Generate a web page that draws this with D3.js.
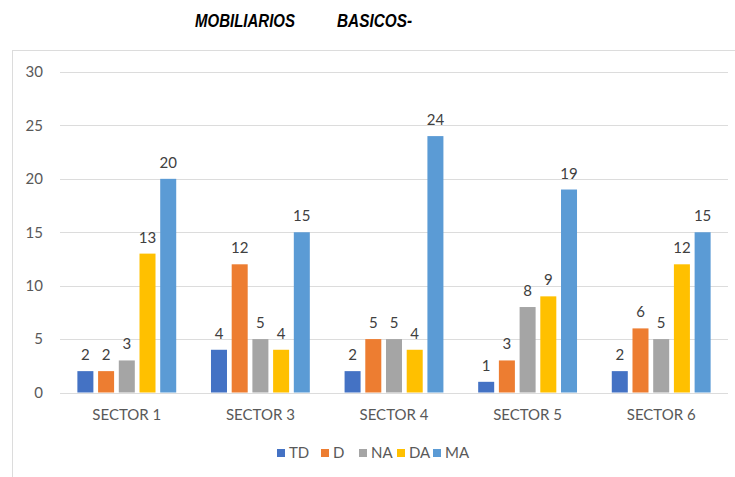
<!DOCTYPE html>
<html>
<head>
<meta charset="utf-8">
<script src="https://cdn.jsdelivr.net/npm/d3@7"></script>
<style>
  body { margin: 0; background: #fff; }
  svg { display: block; }
</style>
</head>
<body>
<div id="chart"></div>
<script>
// data
var sectors = ["SECTOR 1", "SECTOR 3", "SECTOR 4", "SECTOR 5", "SECTOR 6"];
var seriesNames = ["TD", "D", "NA", "DA", "MA"];
var TD = [2, 4, 2, 1, 2];
var D  = [2, 12, 5, 3, 6];
var NA = [3, 5, 5, 8, 5];
var DA = [13, 4, 4, 9, 12];
var MA = [20, 15, 24, 19, 15];
var yTicks = [0, 5, 10, 15, 20, 25, 30];
var colors = ["#4472C4", "#ED7D31", "#A5A5A5", "#FFC000", "#5B9BD5"];

var seriesValues = [TD, D, NA, DA, MA];
var data = [];
sectors.forEach(function (s, i) {
	seriesNames.forEach(function (n, j) {
		data.push({sector: s, series: n, value: seriesValues[j][i]});
	});
});

var W = 735, H = 477;
var font = "Lato, 'Open Sans', sans-serif";

var svg = d3.select("#chart").append("svg")
	.attr("width", W)
	.attr("height", H);

// chart frame
svg.append("rect")
	.attr("x", 12.5).attr("y", 50.5)
	.attr("width", 800).attr("height", 500)
	.style("fill", "none")
	.style("stroke", "#dcdcdc");

// title
var title = svg.append("text")
	.attr("y", 27)
	.style("font-family", "'Liberation Sans', Arial, sans-serif")
	.style("font-weight", "bold")
	.style("font-style", "italic")
	.style("font-size", "19px")
	.style("fill", "#000");
title.append("tspan").attr("x", 195).attr("textLength", 100).attr("lengthAdjust", "spacingAndGlyphs").text("MOBILIARIOS");
title.append("tspan").attr("x", 337).attr("textLength", 75).attr("lengthAdjust", "spacingAndGlyphs").text("BASICOS-");

var x0 = d3.scaleBand().domain(sectors).range([60, 728]).paddingInner(0.225).paddingOuter(0.1125);
var x1 = d3.scaleBand().domain(seriesNames).range([0, x0.bandwidth()]).paddingInner(0.227).paddingOuter(0.1135);
var y = d3.scaleLinear().domain([0, 30]).range([392.5, 72]);
var color = d3.scaleOrdinal().domain(seriesNames).range(colors);

// gridlines
svg.append("g")
	.selectAll("line")
	.data(yTicks)
	.enter()
	.append("line")
		.attr("x1", 60).attr("x2", 728)
		.attr("y1", function(d) { return Math.round(y(d)) + 0.5; })
		.attr("y2", function(d) { return Math.round(y(d)) + 0.5; })
		.style("stroke", "#dcdcdc")
		.style("stroke-width", 1.2);

// y axis labels
var yAxis = svg.append("g")
	.attr("transform", "translate(60,0)")
	.call(d3.axisLeft(y).tickValues(yTicks).tickSize(0).tickPadding(17));
yAxis.select(".domain").remove();
yAxis.selectAll("text")
	.style("font-family", font)
	.style("font-size", "15px")
	.style("fill", "#595959");

// x axis labels
var xAxis = svg.append("g")
	.attr("transform", "translate(0," + y(0) + ")")
	.call(d3.axisBottom(x0).tickSize(0).tickPadding(17));
xAxis.select(".domain").remove();
xAxis.selectAll("text")
	.style("font-family", font)
	.style("font-size", "15px")
	.style("fill", "#595959");

// bars
var groups = svg.append("g")
	.selectAll("g")
	.data(sectors)
	.enter()
	.append("g")
	.attr("transform", function(d) { return "translate(" + x0(d) + ",0)"; });

groups.selectAll("rect")
	.data(function(s) { return data.filter(function(d) { return d.sector === s; }); })
	.enter()
	.append("rect")
		.attr("x", function(d) { return x1(d.series); })
		.attr("y", function(d) { return y(d.value); })
		.attr("width", x1.bandwidth())
		.attr("height", function(d) { return y(0) - y(d.value); })
		.style("fill", function(d) { return color(d.series); });

groups.selectAll("text")
	.data(function(s) { return data.filter(function(d) { return d.sector === s; }); })
	.enter()
	.append("text")
		.attr("x", function(d) { return x1(d.series) + x1.bandwidth() / 2; })
		.attr("y", function(d) { return y(d.value) - 11; })
		.style("text-anchor", "middle")
		.style("font-family", font)
		.style("font-size", "15px")
		.style("fill", "#404040")
		.text(function(d) { return d.value; });

// legend
var legendX = [277, 321, 359, 397, 433];
var legend = svg.append("g")
	.selectAll("g")
	.data(seriesNames)
	.enter()
	.append("g")
	.attr("transform", function(d, i) { return "translate(" + legendX[i] + ",449)"; });
legend.append("rect")
	.attr("width", 8).attr("height", 8)
	.style("fill", function(d) { return color(d); });
legend.append("text")
	.attr("x", 12).attr("y", 9)
	.style("font-family", font)
	.style("font-size", "15px")
	.style("fill", "#595959")
	.text(function(d) { return d; });
</script>
</body>
</html>
